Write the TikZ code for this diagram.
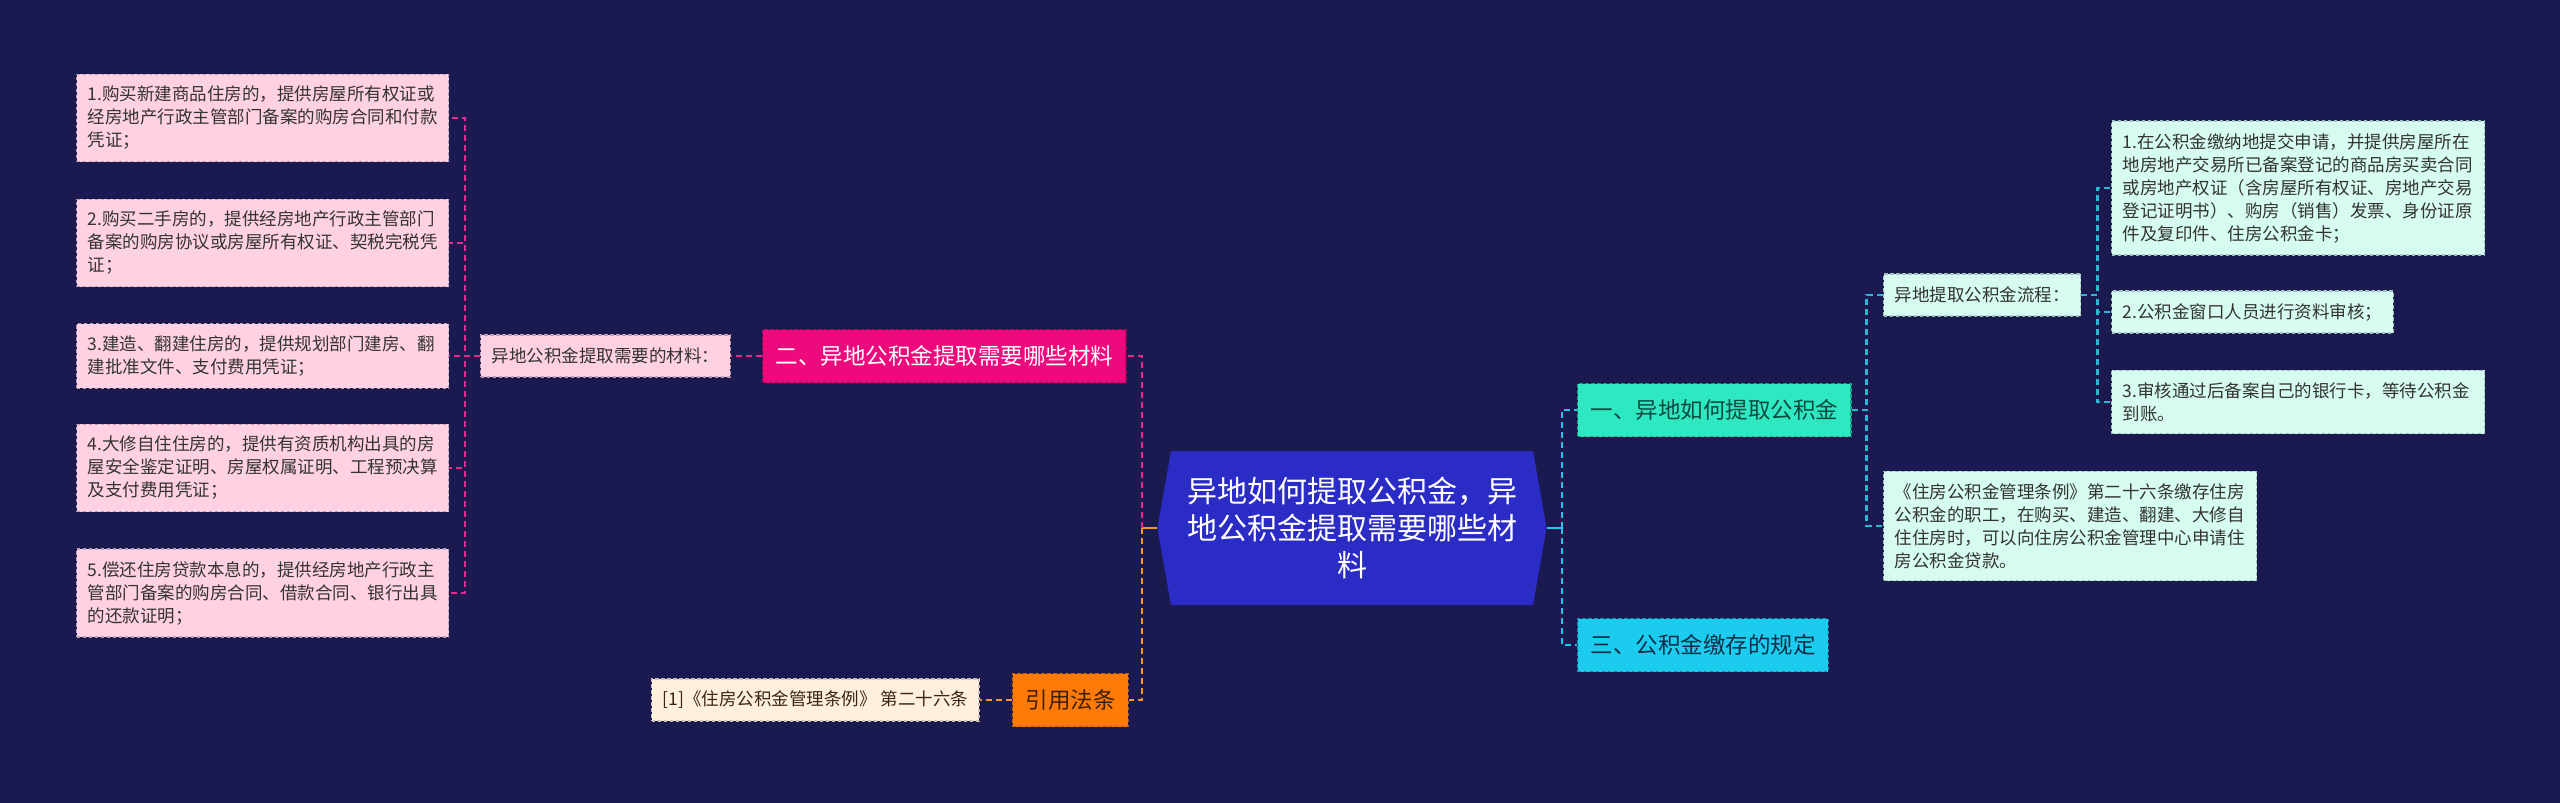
\documentclass[tikz,border=0pt]{standalone}
\usepackage{fontspec}
\setmainfont{Noto Sans CJK SC}
\usetikzlibrary{shapes.symbols}

\definecolor{bgnavy}{HTML}{1B1A50}
\definecolor{rootblue}{HTML}{2B2BC6}
\definecolor{pinkfill}{HTML}{FFD1E3}
\definecolor{pinkedge}{HTML}{B9A2B4}
\definecolor{magenta}{HTML}{EE0A7C}
\definecolor{pinkline}{HTML}{E3288E}
\definecolor{orangefill}{HTML}{FF7A06}
\definecolor{orangeline}{HTML}{F59A2A}
\definecolor{peachfill}{HTML}{FFEFDC}
\definecolor{tealfill}{HTML}{2EE8C1}
\definecolor{tealtext}{HTML}{0C4A40}
\definecolor{cyanfill}{HTML}{1CCCEF}
\definecolor{cyantext}{HTML}{0E2E48}
\definecolor{cyanline}{HTML}{1EC8EC}
\definecolor{tealline}{HTML}{29B8CF}
\definecolor{mintfill}{HTML}{D6FBF1}
\definecolor{mintedge}{HTML}{9FC3BC}

\begin{document}
\begin{tikzpicture}[x=0.5pt, y=-0.5pt,
    leaf/.style={draw, dash pattern=on 1.8pt off 1.2pt, line width=0.7pt, align=left, anchor=west,
      inner xsep=5.5pt, inner ysep=6pt, minimum height=21pt, font=\fontsize{8.75pt}{11.5pt}\selectfont},
    pinkleaf/.style={leaf, fill=pinkfill, draw=pinkedge, text=black!80, text width=175pt},
    mintleaf/.style={leaf, fill=mintfill, draw=mintedge, text=black!80},
    topic/.style={draw, dash pattern=on 1.8pt off 1.2pt, line width=0.7pt, anchor=west,
      inner xsep=6.4pt, minimum height=26.5pt, font=\fontsize{11.25pt}{13pt}\selectfont},
    link/.style={line width=1.1pt, dash pattern=on 3pt off 2pt},
    pinklink/.style={link, pinkline},
    orangelink/.style={link, orangeline},
    cyanlink/.style={link, cyanline},
    teallink/.style={link, tealline}
    ]
    \fill[bgnavy] (0,0) rectangle (2560,803);
    \useasboundingbox (0,0) rectangle (2560,803);

    \node[signal, signal to=east and west, signal pointer angle=160, fill=rootblue, text=white,
      text width=165pt, align=center, inner xsep=8pt, minimum height=77pt,
      font=\fontsize{15pt}{18.5pt}\selectfont] (root) at (1352,528)
      {异地如何提取公积金，异\\地公积金提取需要哪些材\\料};

    % left side
    \node[topic, fill=magenta, draw=magenta!70!black, text=white] (sec2) at (762,356) {二、异地公积金提取需要哪些材料};
    \node[leaf, fill=pinkfill, draw=pinkedge, text=black!80] (mat) at (480,356) {异地公积金提取需要的材料：};
    \node[pinkleaf] (b1) at (76,118) {1.购买新建商品住房的，提供房屋所有权证或\\经房地产行政主管部门备案的购房合同和付款\\凭证；};
    \node[pinkleaf] (b2) at (76,243) {2.购买二手房的，提供经房地产行政主管部门\\备案的购房协议或房屋所有权证、契税完税凭\\证；};
    \node[pinkleaf] (b3) at (76,356) {3.建造、翻建住房的，提供规划部门建房、翻\\建批准文件、支付费用凭证；};
    \node[pinkleaf] (b4) at (76,468) {4.大修自住住房的，提供有资质机构出具的房\\屋安全鉴定证明、房屋权属证明、工程预决算\\及支付费用凭证；};
    \node[pinkleaf] (b5) at (76,593) {5.偿还住房贷款本息的，提供经房地产行政主\\管部门备案的购房合同、借款合同、银行出具\\的还款证明；};
    \node[topic, fill=orangefill, draw=orangefill!75!black, text=black!75!orange] (law) at (1012,700) {引用法条};
    \node[leaf, fill=peachfill, draw=peachfill!60!gray, text=black!70!brown] (ref) at (651,700) {[1]《住房公积金管理条例》 第二十六条};

    % right side
    \node[topic, fill=tealfill, draw=tealfill!70!black, text=tealtext] (sec1) at (1577,410) {一、异地如何提取公积金};
    \node[topic, fill=cyanfill, draw=cyanfill!70!black, text=cyantext] (sec3) at (1577,645) {三、公积金缴存的规定};
    \node[mintleaf] (flow) at (1883,295) {异地提取公积金流程：};
    \node[mintleaf, text width=175.5pt] (rule) at (1883,526) {《住房公积金管理条例》第二十六条缴存住房\\公积金的职工，在购买、建造、翻建、大修自\\住住房时，可以向住房公积金管理中心申请住\\房公积金贷款。};
    \node[mintleaf, text width=175.5pt] (s1) at (2111,188) {1.在公积金缴纳地提交申请，并提供房屋所在\\地房地产交易所已备案登记的商品房买卖合同\\或房地产权证（含房屋所有权证、房地产交易\\登记证明书）、购房（销售）发票、身份证原\\件及复印件、住房公积金卡；};
    \node[mintleaf] (s2) at (2111,312) {2.公积金窗口人员进行资料审核；};
    \node[mintleaf, text width=175.5pt] (s3) at (2111,402) {3.审核通过后备案自己的银行卡，等待公积金\\到账。};

    % connectors
    \draw[orangeline, line width=1.1pt] (root.west) -- ++(-15,0) coordinate (lj);
    \draw[pinklink] (lj) |- (sec2.east);
    \draw[orangelink] (lj) |- (law.east);
    \draw[pinklink] (sec2.west) -- (mat.east);
    \draw[pinklink] (mat.west) -- ++(-15,0) |- (b1.east);
    \draw[pinklink] (mat.west) -- ++(-15,0) |- (b2.east);
    \draw[pinklink] (mat.west) -- ++(-15,0) |- (b3.east);
    \draw[pinklink] (mat.west) -- ++(-15,0) |- (b4.east);
    \draw[pinklink] (mat.west) -- ++(-15,0) |- (b5.east);
    \draw[orangelink] (law.west) -- (ref.east);

    \draw[cyanline, line width=1.1pt] (root.east) -- ++(15,0) coordinate (rj);
    \draw[cyanlink] (rj) |- (sec1.west);
    \draw[cyanlink] (rj) |- (sec3.west);
    \draw[teallink] (sec1.east) -- ++(15,0) |- (flow.west);
    \draw[teallink] (sec1.east) -- ++(15,0) |- (rule.west);
    \draw[teallink] (flow.east) -- ++(16,0) |- (s1.west);
    \draw[teallink] (flow.east) -- ++(16,0) |- (s2.west);
    \draw[teallink] (flow.east) -- ++(16,0) |- (s3.west);
\end{tikzpicture}
\end{document}
